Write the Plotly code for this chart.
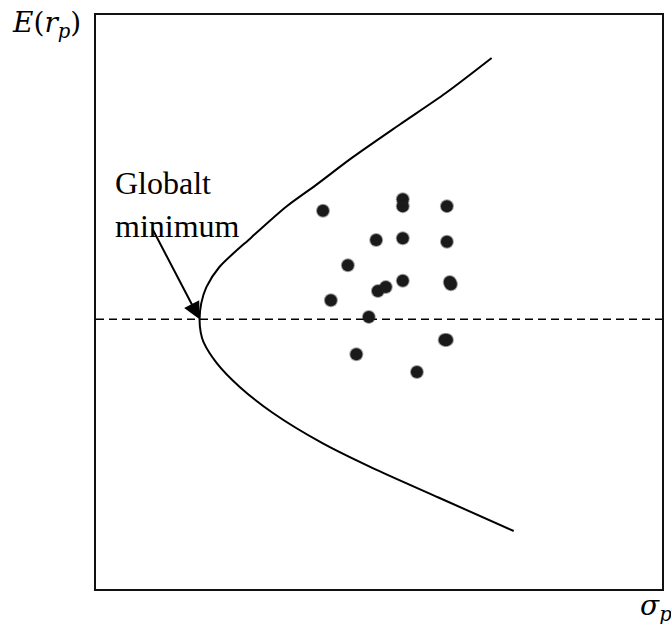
import plotly.graph_objects as go

# Efficient frontier (minimum-variance hyperbola), read as (sigma, expected return) points
frontier_sigma = [6.99, 6.18, 5.35, 4.52, 3.89, 3.36, 2.75, 2.18, 1.95, 1.86, 1.83,
                  1.85, 1.90, 2.13, 2.54, 3.12, 4.00, 4.88, 6.06, 7.38]
frontier_ret = [9.25, 8.64, 8.08, 7.51, 7.04, 6.66, 6.13, 5.61, 5.26, 4.98, 4.70,
                4.47, 4.30, 3.94, 3.52, 3.07, 2.54, 2.11, 1.59, 1.01]

# Individual assets inside the frontier
asset_sigma = [4.01, 5.42, 5.42, 6.20, 4.95, 5.42, 6.20, 4.45, 5.42, 6.25, 6.27,
               4.98, 5.12, 4.15, 4.82, 6.20, 6.16, 4.60, 5.67]
asset_ret = [6.59, 6.79, 6.67, 6.67, 6.08, 6.11, 6.05, 5.64, 5.37, 5.35, 5.31,
             5.19, 5.26, 5.03, 4.74, 4.34, 4.34, 4.09, 3.78]

# Global minimum variance portfolio
gmv_sigma = 1.83
gmv_ret = 4.70

x_range = [0, 10]
y_range = [0, 10]

fig = go.Figure()

# dashed level of the global minimum return
fig.add_trace(go.Scatter(
    x=x_range, y=[gmv_ret, gmv_ret], mode="lines",
    line=dict(color="black", width=1.5, dash="8px,5px"),
    hoverinfo="skip", showlegend=False, cliponaxis=False,
))

# frontier curve
fig.add_trace(go.Scatter(
    x=frontier_sigma, y=frontier_ret, mode="lines",
    line=dict(color="black", width=2, shape="spline", smoothing=0.8),
    hoverinfo="skip", showlegend=False,
))

# soft edge under the asset dots
fig.add_trace(go.Scatter(
    x=asset_sigma, y=asset_ret, mode="markers",
    marker=dict(size=14, color="rgba(20,20,20,0.4)", line=dict(width=0)),
    hoverinfo="skip", showlegend=False,
))
fig.add_trace(go.Scatter(
    x=asset_sigma, y=asset_ret, mode="markers",
    marker=dict(size=12, color="#1a1a1a", line=dict(width=0)),
    showlegend=False,
))

W, H = 671, 624
ml, mr, mt, mb = 96, 7, 15, 35
pw, ph = W - ml - mr, H - mt - mb


def px_x(px):
    return (px - ml) / pw


def px_y(py):
    return (H - mb - py) / ph


text_font = "Liberation Serif"
math_font = "DejaVu Serif"

fig.add_annotation(
    x=px_x(113), y=px_y(183), xref="paper", yref="paper",
    text="Globalt", showarrow=False, xanchor="left", yanchor="middle",
    font=dict(family=text_font, size=32, color="black"),
)
fig.add_annotation(
    x=px_x(113), y=px_y(226), xref="paper", yref="paper",
    text="minimum", showarrow=False, xanchor="left", yanchor="middle",
    font=dict(family=text_font, size=32, color="black"),
)

# arrow pointing to the global minimum
fig.add_annotation(
    x=gmv_sigma, y=gmv_ret, xref="x", yref="y",
    ax=-48, ay=-92, axref="pixel", ayref="pixel",
    text="", showarrow=True, arrowhead=2, arrowsize=1.7, arrowwidth=2,
    arrowcolor="black", standoff=0,
)

# axis titles
fig.add_annotation(
    x=px_x(10), y=px_y(25), xref="paper", yref="paper",
    text="<i>E</i>(<i>r</i><sub><i>p</i></sub>)", showarrow=False,
    xanchor="left", yanchor="middle",
    font=dict(family=math_font, size=28, color="black"),
)
fig.add_annotation(
    x=px_x(640), y=px_y(607), xref="paper", yref="paper",
    text="<i>σ</i><sub><i>p</i></sub>", showarrow=False,
    xanchor="left", yanchor="middle",
    font=dict(family=math_font, size=28, color="black"),
)

axis_style = dict(
    showline=True, mirror=True, linewidth=2, linecolor="#111111",
    showgrid=False, zeroline=False, showticklabels=False, ticks="",
    fixedrange=True,
)
fig.update_xaxes(range=x_range, **axis_style)
fig.update_yaxes(range=y_range, **axis_style)

fig.update_layout(
    width=W, height=H,
    margin=dict(l=ml, r=mr, t=mt, b=mb),
    plot_bgcolor="white", paper_bgcolor="white",
    showlegend=False,
)

fig.write_html("out.html")
